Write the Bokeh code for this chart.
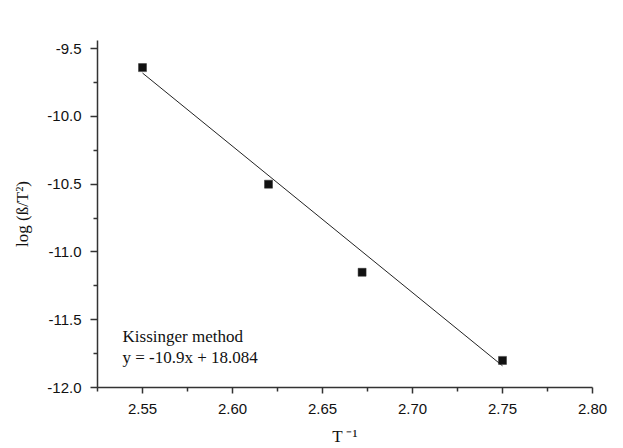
import numpy as np
from bokeh.plotting import figure
from bokeh.models import Range1d, FixedTicker, PrintfTickFormatter, Label
from bokeh.embed import file_html
from bokeh.resources import INLINE

# Data
inv_T = [2.55, 2.62, 2.672, 2.75]
log_beta_T2 = [-9.64, -10.50, -11.15, -11.80]

# Drawn fit line (end points)
fit_x = [2.55, 2.75]
fit_y = [-9.68, -11.84]

x_major = [2.55, 2.60, 2.65, 2.70, 2.75, 2.80]
x_minor = [2.525, 2.575, 2.625, 2.675, 2.725, 2.775]
y_major = [-12.0, -11.5, -11.0, -10.5, -10.0, -9.5]
y_minor = [-11.75, -11.25, -10.75, -10.25, -9.75]

annot_lines = ["Kissinger method", "y = -10.9x + 18.084"]
x_title = "T \u207b\u00b9"
y_title = "log (\u00df/T\u00b2)"

p = figure(width=623, height=448, output_backend="svg", toolbar_location=None,
           x_range=Range1d(2.525, 2.80), y_range=Range1d(-12.0, -9.44),
           min_border_left=97, min_border_right=31, min_border_top=40, min_border_bottom=60)
p.outline_line_color = None
p.xgrid.visible = False
p.ygrid.visible = False
p.background_fill_color = "white"
p.border_fill_color = "white"

p.line(fit_x, fit_y, line_color="#222222", line_width=1)
p.scatter(inv_T, log_beta_T2, marker="square", size=8, fill_color="#111111", line_color="#333333", line_width=0.5)

for ax in (p.xaxis[0], p.yaxis[0]):
    ax.axis_line_color = "#333333"
    ax.axis_line_width = 1.5
    ax.major_tick_line_color = "#333333"
    ax.minor_tick_line_color = "#333333"
    ax.major_tick_line_width = 1.5
    ax.minor_tick_line_width = 1.5
    ax.major_tick_in = 0
    ax.minor_tick_in = 0
    ax.major_label_text_font = "Liberation Sans"
    ax.major_label_text_font_size = "15px"
    ax.major_label_text_color = "#111111"
    ax.axis_label_text_font = "Liberation Serif"
    ax.axis_label_text_font_style = "normal"
    ax.axis_label_text_font_size = "17px"
    ax.axis_label_text_color = "#111111"

p.xaxis[0].ticker = FixedTicker(ticks=x_major, minor_ticks=x_minor)
p.yaxis[0].ticker = FixedTicker(ticks=y_major, minor_ticks=y_minor)
p.xaxis[0].formatter = PrintfTickFormatter(format="%.2f")
p.yaxis[0].formatter = PrintfTickFormatter(format="%.1f")
p.xaxis[0].major_tick_out = 6
p.xaxis[0].minor_tick_out = 4
p.yaxis[0].major_tick_out = 7
p.yaxis[0].minor_tick_out = 4
p.xaxis[0].major_label_standoff = 10
p.yaxis[0].major_label_standoff = 9
p.xaxis[0].axis_label = x_title
p.xaxis[0].axis_label_standoff = 10
p.yaxis[0].axis_label = y_title
p.yaxis[0].axis_label_standoff = 12

for i, t in enumerate(annot_lines):
    p.add_layout(Label(x=2.5389, y=-11.694 - i * 0.154, text=t,
                       text_font="Liberation Serif", text_font_size="17px",
                       text_color="#111111"))

open("out.html", "w").write(file_html(p, INLINE))
